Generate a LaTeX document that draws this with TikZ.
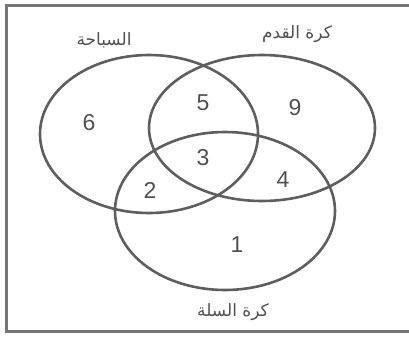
\documentclass[tikz,border=0pt]{standalone}
\usepackage{fontspec}
\setmainfont{Liberation Sans}
\newfontfamily\arabicfont[Script=Arabic]{DejaVu Sans}
\TeXXeTstate=1
\definecolor{lineg}{HTML}{5E5E5E}
\definecolor{textg}{HTML}{505050}
\begin{document}
\begin{tikzpicture}[x=1pt,y=-1pt,
  setline/.style={draw=lineg,line width=2.6pt},
  num/.style={text=textg,font=\fontsize{23}{23}\selectfont,inner sep=0pt},
  lab/.style={text=textg,font=\arabicfont\fontsize{17}{17}\selectfont,inner sep=0pt}]
\useasboundingbox (0,0) rectangle (409,338);
\draw[draw=lineg!85,line width=3pt] (6,5) rectangle (410,331.5);
\draw[setline] (149,134) ellipse [x radius=109,y radius=79];
\draw[setline] (262,128) ellipse [x radius=113,y radius=73];
\draw[setline] (225,211) ellipse [x radius=110,y radius=79];
\node[num] (n6) at (89,123) {6};
\node[num] (n5) at (203,103) {5};
\node[num] (n9) at (295,108) {9};
\node[num] (n3) at (203,158) {3};
\node[num] (n4) at (283,180) {4};
\node[num] (n2) at (150,190) {2};
\node[num] (n1) at (237,245) {1};
\node[lab] (swim) at (104,40) {\beginR السباحة\endR};
\node[lab] (foot) at (297,34) {\beginR كرة القدم\endR};
\node[lab] (bask) at (233,312) {\beginR كرة السلة\endR};
\end{tikzpicture}
\end{document}
